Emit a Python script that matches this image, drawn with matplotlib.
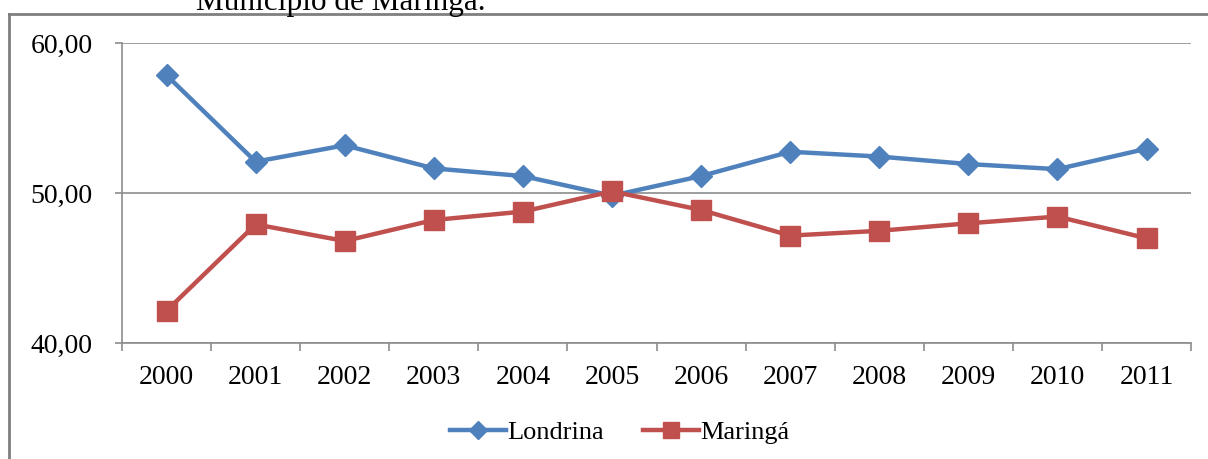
import matplotlib.pyplot as plt
from matplotlib.lines import Line2D

anos = ['2000', '2001', '2002', '2003', '2004', '2005',
        '2006', '2007', '2008', '2009', '2010', '2011']
londrina = [57.85, 52.09, 53.18, 51.64, 51.13, 49.82,
            51.13, 52.75, 52.43, 51.93, 51.59, 52.95]
maringa = [42.15, 47.91, 46.80, 48.20, 48.76, 50.11,
           48.87, 47.16, 47.48, 47.98, 48.43, 46.98]

plt.rcParams['font.family'] = ['Liberation Serif', 'DejaVu Serif']

AZUL = '#4F81BD'
VERMELHO = '#C0504D'
CINZA = '#8C8C8C'

fig = plt.figure(figsize=(12.08, 4.59), dpi=100)
ax = fig.add_axes([0.101, 0.2527, 0.885, 0.6536])

x = [i + 0.5 for i in range(len(anos))]
ax.plot(x, londrina, color=AZUL, lw=3.2, marker='D', ms=11.5,
        mec=AZUL, mfc=AZUL, label='Londrina', zorder=3)
ax.plot(x, maringa, color=VERMELHO, lw=3.2, marker='s', ms=14.5,
        mec=VERMELHO, mfc=VERMELHO, label='Maringá', zorder=4)

ax.set_xlim(0, len(anos))
ax.set_ylim(40, 60)
ax.set_yticks([40, 50, 60])
ax.set_yticklabels(['40,00', '50,00', '60,00'])
ax.yaxis.grid(True, color=CINZA, lw=1.2)
ax.set_axisbelow(True)

# ticks nas divisas, rótulos no centro de cada categoria
ax.set_xticks(range(len(anos) + 1))
ax.set_xticklabels([])
ax.set_xticks(x, minor=True)
ax.set_xticklabels(anos, minor=True)
ax.tick_params(axis='x', which='major', length=6, width=1.2, color=CINZA)
ax.tick_params(axis='x', which='minor', length=0, pad=16, labelsize=20)
ax.tick_params(axis='y', length=5, width=1.2, color=CINZA, pad=16, labelsize=20)

for lado in ['top', 'right']:
    ax.spines[lado].set_visible(False)
for lado in ['left', 'bottom']:
    ax.spines[lado].set_color(CINZA)
    ax.spines[lado].set_linewidth(1.2)

handles = [
    Line2D([], [], color=AZUL, lw=3.2, marker='D', ms=9, label='Londrina'),
    Line2D([], [], color=VERMELHO, lw=3.2, marker='s', ms=12, label='Maringá'),
]
fig.legend(handles=handles, loc='center', bbox_to_anchor=(0.513, 0.058),
           ncol=2, frameon=False, fontsize=19, handlelength=2.1,
           handletextpad=0.05, columnspacing=1.5)

# moldura do gráfico e título cortado no topo
fig.add_artist(Line2D([9 / 1208, 9 / 1208], [0, 1 - 14 / 459],
                      color='#7F7F7F', lw=2, transform=fig.transFigure))
fig.add_artist(Line2D([9 / 1208, 1], [1 - 14 / 459, 1 - 14 / 459],
                      color='#7F7F7F', lw=2, transform=fig.transFigure))
fig.text(196 / 1208, 1 - 10 / 459, 'Município de Maringá.', fontsize=22.5,
         ha='left', va='baseline')

fig.savefig('out.png', dpi=100, facecolor='white')
